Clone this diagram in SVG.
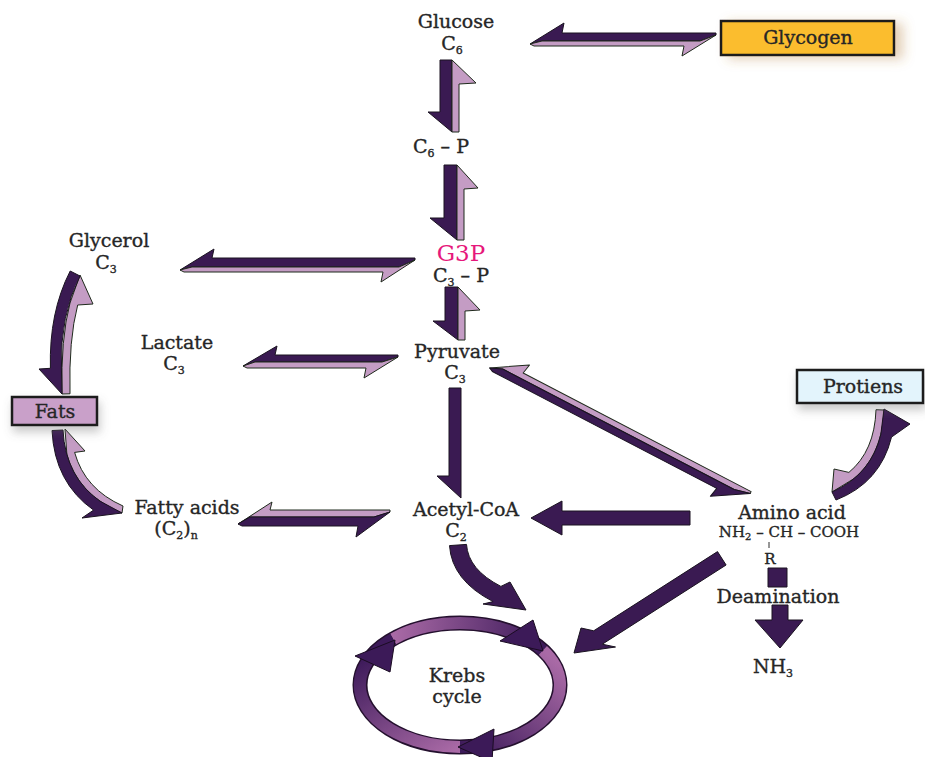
<svg xmlns="http://www.w3.org/2000/svg" width="925" height="757" viewBox="0 0 925 757">
<style>
.t{font-family:"DejaVu Serif","Liberation Serif",serif;font-size:19px;fill:#262626;stroke:#262626;stroke-width:0.35;text-anchor:middle}
.s{font-size:15px}
.sub{font-size:11px}
.dk{fill:#3a1a52;stroke:#1a1320;stroke-width:1;stroke-linejoin:round}
.lt{fill:#c49cc4;stroke:#1f2a1c;stroke-width:1;stroke-linejoin:round}
.box{stroke:#1a1a1a;stroke-width:2.5}
.rh{fill:#3c1a58;stroke:#1a0c22;stroke-width:1;stroke-linejoin:round}
</style>
<defs>
<filter id="shO" x="-20%" y="-40%" width="160%" height="220%"><feDropShadow dx="8" dy="3" stdDeviation="6" flood-color="#b07a30" flood-opacity="0.35"/></filter>
<filter id="shG" x="-20%" y="-40%" width="160%" height="220%"><feDropShadow dx="2" dy="6" stdDeviation="5" flood-color="#666" flood-opacity="0.35"/></filter>
<linearGradient id="g1" gradientUnits="userSpaceOnUse" x1="393" y1="639" x2="543" y2="650"><stop offset="0" stop-color="#a96aa6"/><stop offset="1" stop-color="#3d1a5a"/></linearGradient>
<linearGradient id="g2" gradientUnits="userSpaceOnUse" x1="543" y1="650" x2="460" y2="747"><stop offset="0" stop-color="#a96aa6"/><stop offset="1" stop-color="#3d1a5a"/></linearGradient>
<linearGradient id="g3" gradientUnits="userSpaceOnUse" x1="460" y1="747" x2="393" y2="639"><stop offset="0" stop-color="#a96aa6"/><stop offset="1" stop-color="#3d1a5a"/></linearGradient>
</defs>
<rect width="925" height="757" fill="#ffffff"/>

<g id="connectors">
  <!-- Glucose <-> Glycogen -->
  <polygon class="dk" points="530,44 564,23 562,33 716,33 716,35 700,41 542,41"/>
  <polygon class="lt" points="716,35 682,56 684,46 534,46 530,44 542,41 700,41"/>
  <!-- Glucose <-> C6-P -->
  <polygon class="dk" points="440,60 452,60 452,132 428,112 440,112"/>
  <polygon class="lt" points="452,60 476,83 459,84 459,132 452,132"/>
  <!-- C6-P <-> G3P -->
  <polygon class="dk" points="444,165 457,165 457,240 430,218 444,218"/>
  <polygon class="lt" points="457,165 478,188 464,189 464,240 457,240"/>
  <!-- C3-P <-> Pyruvate -->
  <polygon class="dk" points="445,287 458,287 458,340 433,321 445,321"/>
  <polygon class="lt" points="458,287 480,310 465,311 465,340 458,340"/>
  <!-- Glycerol <-> G3P -->
  <polygon class="dk" points="180,270 214,249 212,258 415,258 415,260 399,267 192,267"/>
  <polygon class="lt" points="415,260 381,282 383,272 184,272 180,270 192,267 399,267"/>
  <!-- Lactate <-> Pyruvate -->
  <polygon class="dk" points="243,366 277,346 275,355 398,355 398,357 382,362 255,362"/>
  <polygon class="lt" points="398,357 364,378 366,368 247,368 243,366 255,362 382,362"/>
  <!-- Fatty acids <-> Acetyl-CoA -->
  <polygon class="lt" points="238,524 272,502 270,510 390,510 390,512 374,517 250,517"/>
  <polygon class="dk" points="390,512 356,537 358,526 242,526 238,524 250,517 374,517"/>
  <!-- Pyruvate <-> Amino acid -->
  <g transform="translate(492,363.5) rotate(27.5)">
    <polygon class="lt" points="0,5 34,-16 32,-6 289,-6 289,-4 273,0 12,0"/>
    <polygon class="dk" points="289,-4 255,17 257,7 4,7 0,5 12,0 273,0"/>
  </g>
  <!-- Pyruvate -> Acetyl-CoA -->
  <polygon class="dk" points="449,388 461,388 461,498 437,476 449,476"/>
  <!-- Amino acid -> Acetyl-CoA -->
  <polygon class="dk" points="690,511 690,525 562,525 562,535 531,518 562,501 562,511"/>
  <!-- Glycerol <-> Fats -->
  <path class="lt" d="M80,275 L93,304 L77.7,305 Q68.6,339.6 70,393.8 L62,394 Q60.6,338.7 70,303 Z"/>
  <path class="dk" d="M80,276 Q60,315 61.4,368 L62,394 L39,369 L50.4,368.3 Q48.9,312.5 70.2,271 Z"/>
  <!-- Fats <-> Fatty acids -->
  <path class="lt" d="M65,429 L85,451 L74.6,452.4 Q84.9,489.2 123,506 L122,513 Q78.3,495.1 66.9,454.6 Z"/>
  <path class="dk" d="M63,430 Q65.3,476.8 99.9,501.1 L122,513 L82,518 L93.6,510.1 Q54.6,482.7 52,430.5 Z"/>
  <!-- Protiens <-> Amino acid -->
  <path class="lt" d="M884,410 Q882.5,455 854,478.6 L832,492 L834,469 L848.9,472.4 Q874.6,451.1 876,409.7 Z"/>
  <path class="dk" d="M884,409 L910,424 L891.5,437.1 Q880.4,482.7 836,500 L832,492 Q871,474.8 880.8,434.5 Z"/>
  <!-- Acetyl-CoA -> Krebs -->
  <path class="dk" d="M449.5,545.6 Q451.8,580.4 493.1,601.6 L483,604 L526,610 L510,582 L500.9,586.4 Q468.2,569.6 466.5,544.4 Z"/>
  <!-- Amino acid -> Krebs -->
  <polygon class="dk" points="717.5,551.6 726.1,565 602.3,644.2 615.5,647 574,653 581,628 593.7,630.8"/>
  <!-- Deamination -->
  <rect class="dk" x="768" y="568" width="19" height="19"/>
  <polygon class="dk" points="772,605 788,605 788,620 803,620 780,648 755,620 772,620"/>
</g>

<g id="krebs-cycle">
  <ellipse cx="460" cy="685" rx="100" ry="62" fill="none" stroke="#24102e" stroke-width="15"/>
  <path d="M393.1,638.9 A100,62 0 0 1 542.9,650.3" fill="none" stroke="url(#g1)" stroke-width="12"/>
  <path d="M542.9,650.3 A100,62 0 0 1 460,747" fill="none" stroke="url(#g2)" stroke-width="12"/>
  <path d="M460,747 A100,62 0 0 1 393.1,638.9" fill="none" stroke="url(#g3)" stroke-width="12"/>
  <polygon class="rh" points="543,651 500,641 533,620"/>
  <polygon class="rh" points="458,747 494,729 492,762"/>
  <polygon class="rh" points="395,640 355,656 390,672"/>
  <text class="t" x="457" y="682">Krebs</text>
  <text class="t" x="457" y="703">cycle</text>
</g>

<g id="glucose"><text class="t" x="456" y="28">Glucose</text><text class="t" x="452" y="50">C<tspan class="sub" dy="4">6</tspan></text></g>
<g id="glycogen"><rect class="box" x="721" y="21" width="173" height="34" fill="#fbbd2d" filter="url(#shO)"/><text class="t" x="808" y="44">Glycogen</text></g>
<g id="c6p"><text class="t" x="441" y="153">C<tspan class="sub" dy="4">6</tspan><tspan dy="-4"> – P</tspan></text></g>
<g id="g3p"><text class="t" x="461" y="261" style="font-size:23px;fill:#e6187b;stroke:none">G3P</text><text class="t" x="461" y="282">C<tspan class="sub" dy="4">3</tspan><tspan dy="-4"> – P</tspan></text></g>
<g id="glycerol"><text class="t" x="109" y="247">Glycerol</text><text class="t" x="106" y="269">C<tspan class="sub" dy="4">3</tspan></text></g>
<g id="lactate"><text class="t" x="177" y="349">Lactate</text><text class="t" x="174" y="370">C<tspan class="sub" dy="4">3</tspan></text></g>
<g id="pyruvate"><text class="t" x="457" y="358">Pyruvate</text><text class="t" x="455" y="379">C<tspan class="sub" dy="4">3</tspan></text></g>
<g id="fats"><rect class="box" x="12" y="397" width="85" height="28" fill="#c9a0c9" filter="url(#shG)"/><text class="t" x="55" y="418">Fats</text></g>
<g id="protiens"><rect class="box" x="797" y="370" width="126" height="33" fill="#e3f4fc" stroke-width="2" filter="url(#shG)"/><text class="t" x="863" y="393">Protiens</text></g>
<g id="fatty-acids"><text class="t" x="187" y="514">Fatty acids</text><text class="t" x="176" y="535">(C<tspan class="sub" dy="4">2</tspan><tspan dy="-4">)</tspan><tspan class="sub" dy="4">n</tspan></text></g>
<g id="acetyl-coa"><text class="t" x="466" y="516">Acetyl-CoA</text><text class="t" x="456" y="537">C<tspan class="sub" dy="4">2</tspan></text></g>
<g id="amino-acid">
  <text class="t" x="792" y="519">Amino acid</text>
  <text class="t s" x="789" y="537">NH<tspan class="sub" dy="3" style="font-size:10px">2</tspan><tspan dy="-3"> – CH – COOH</tspan></text>
  <line x1="769" y1="542" x2="769" y2="548" stroke="#2e2e2e" stroke-width="1"/>
  <text class="t s" x="770" y="564">R</text>
</g>
<g id="deamination"><text class="t" x="778" y="603">Deamination</text></g>
<g id="nh3"><text class="t" x="773" y="673">NH<tspan class="sub" dy="4">3</tspan></text></g>
</svg>
